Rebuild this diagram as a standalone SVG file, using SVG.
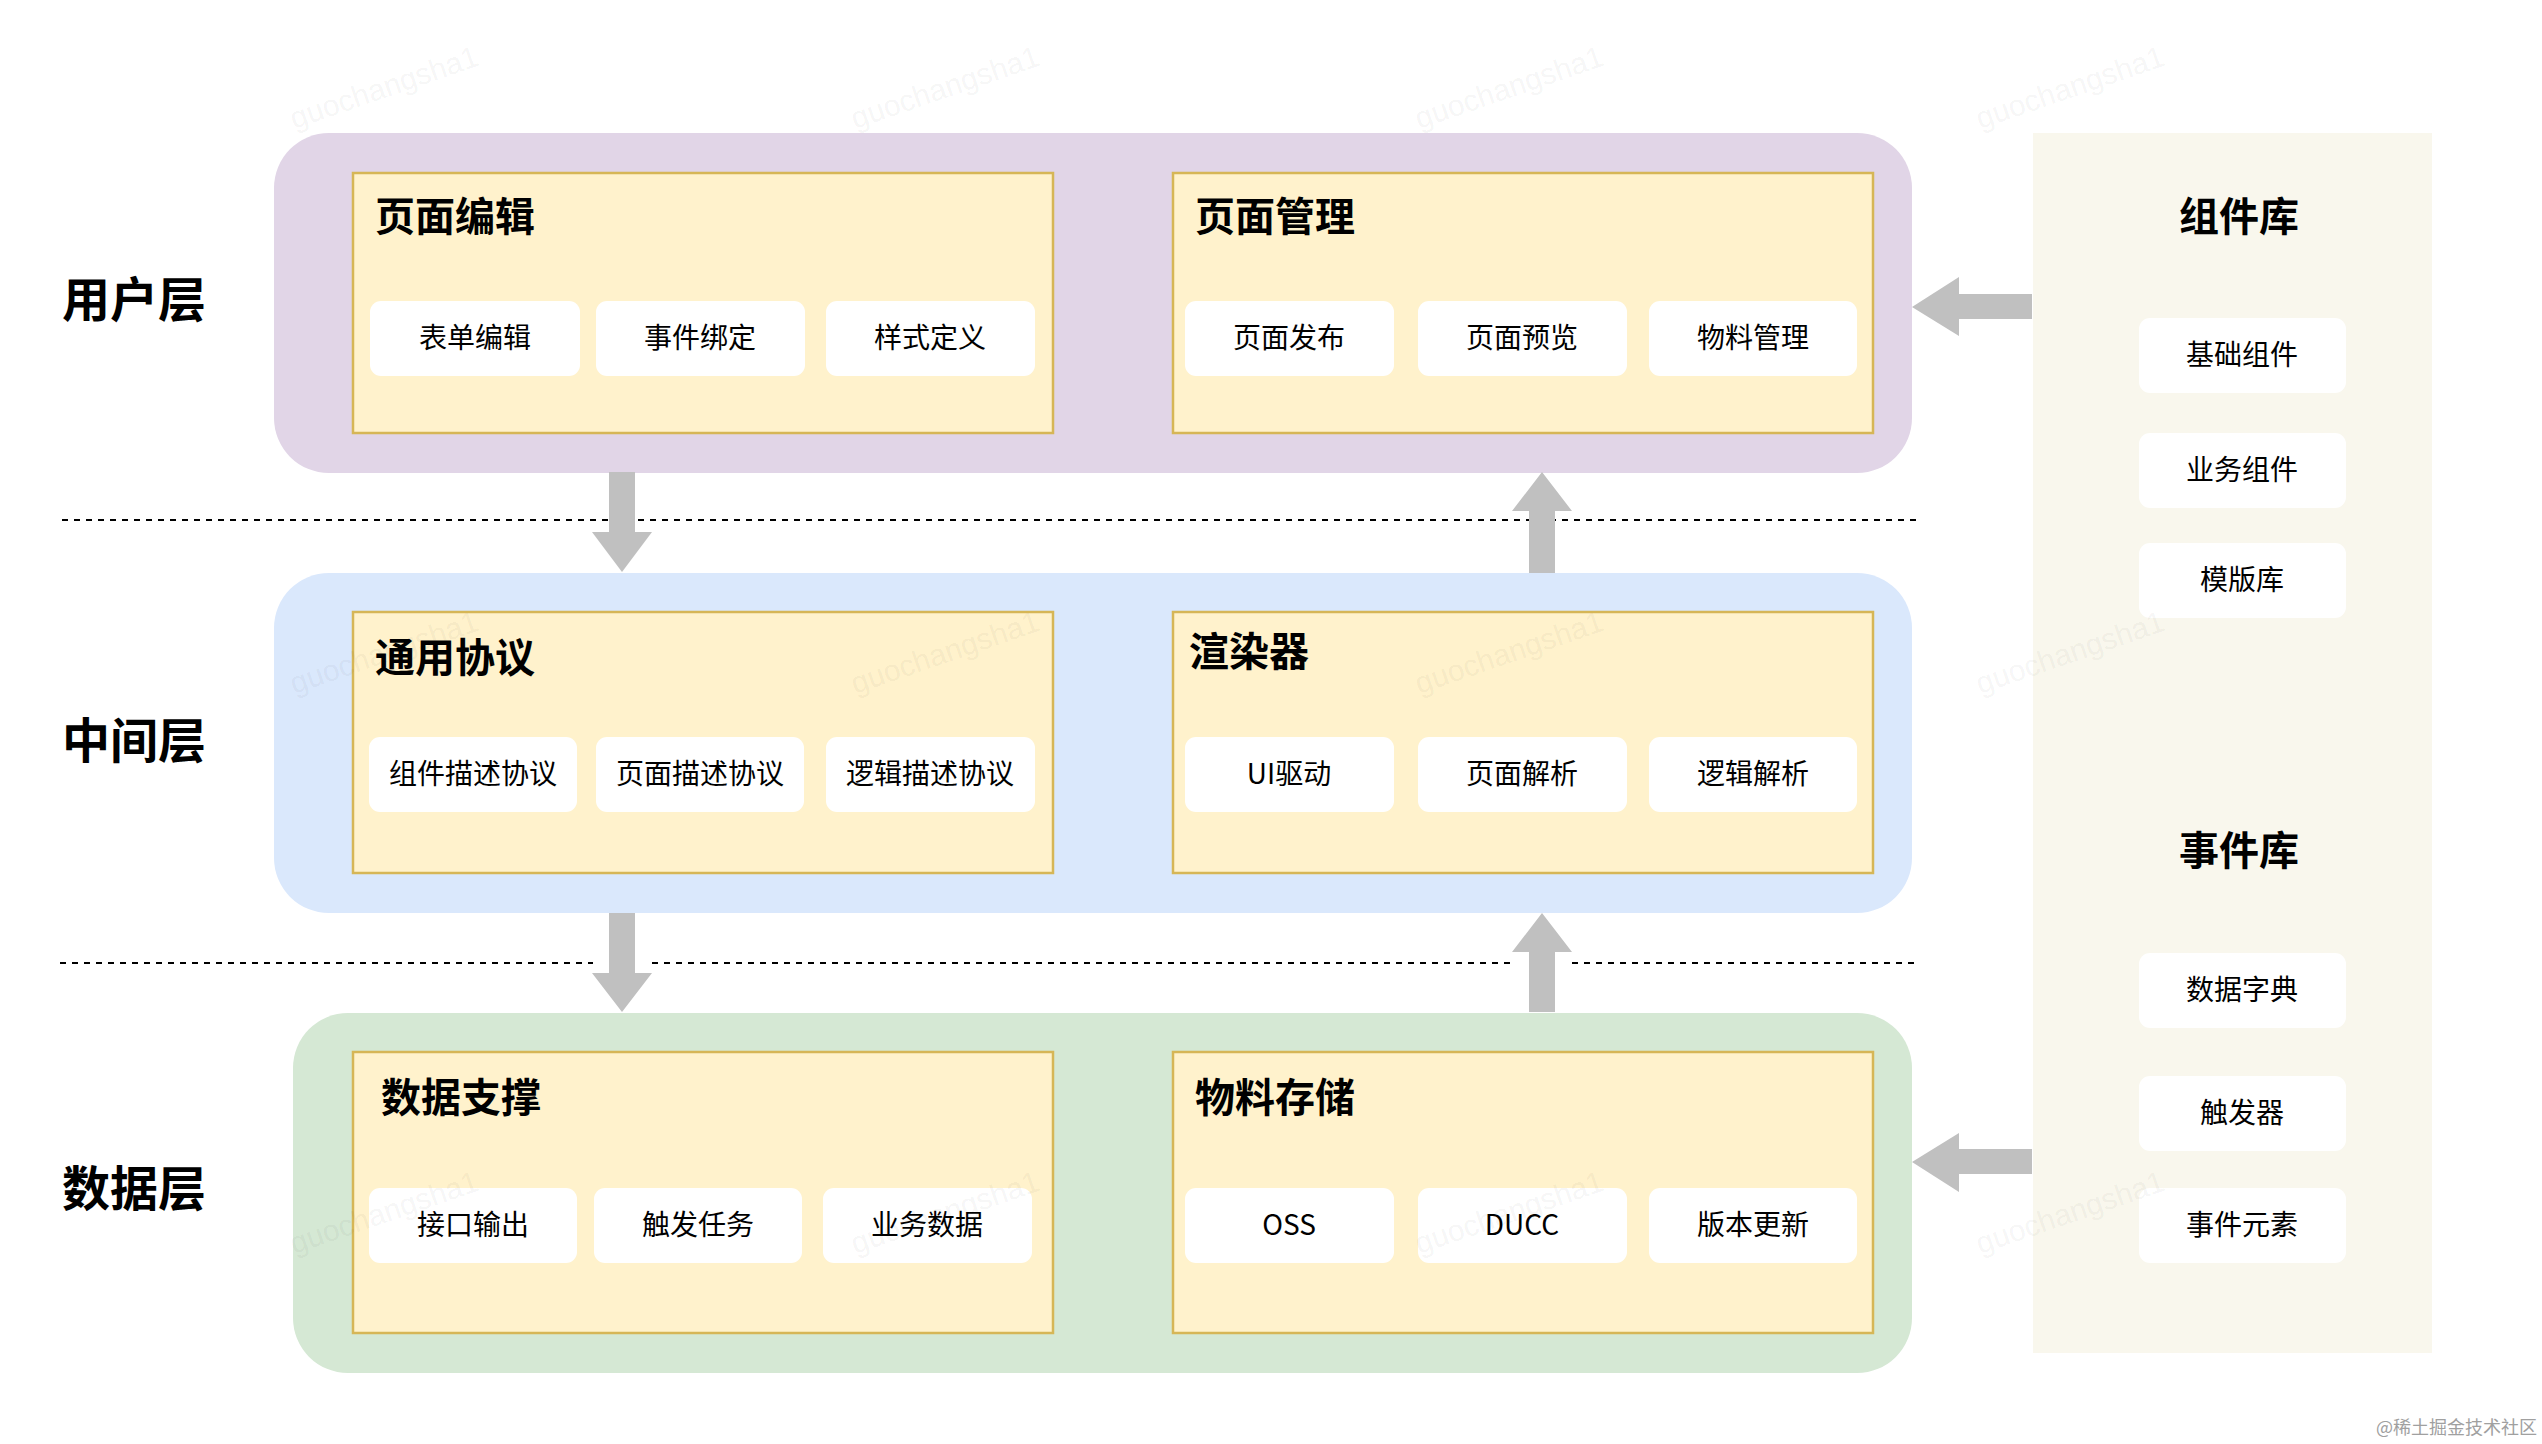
<svg xmlns="http://www.w3.org/2000/svg" width="2542" height="1444" viewBox="0 0 2542 1444">
<style>
  .layer-label{font-family:"Noto Sans CJK SC","Noto Sans",sans-serif;font-weight:bold;font-size:48px;fill:#000;dominant-baseline:central}
  .title{font-family:"Noto Sans CJK SC","Noto Sans",sans-serif;font-weight:bold;font-size:40px;fill:#000;dominant-baseline:central}
  .item{font-family:"Noto Sans CJK SC","Noto Sans",sans-serif;font-size:28px;fill:#000;dominant-baseline:central;text-anchor:middle}
  .box{fill:#fff2cc;stroke:#d6b656;stroke-width:2.5}
  .sub{fill:#ffffff}
  .arrow{fill:#c0c0c0}
  .dash{stroke:#000;stroke-width:2;stroke-dasharray:6 6;fill:none}
  .wm{font-family:"Liberation Sans",Arial,sans-serif;font-size:30px;fill:#000;fill-opacity:0.055;text-anchor:middle;dominant-baseline:central}
  .credit{font-family:"Noto Sans CJK SC","Noto Sans",sans-serif;font-size:18px;fill:#a0a0a0}
</style>

<!-- layer backgrounds -->
<g id="layer-user"><rect x="274" y="133" width="1638" height="340" rx="55" fill="#e1d5e7"/><text class="layer-label" x="62" y="296">用户层</text></g>
<g id="layer-middle"><rect x="274" y="573" width="1638" height="340" rx="55" fill="#dae8fc"/><text class="layer-label" x="62" y="737">中间层</text></g>
<g id="layer-data"><rect x="293" y="1013" width="1619" height="360" rx="55" fill="#d5e8d4"/><text class="layer-label" x="62" y="1185">数据层</text></g>

<!-- right library panel -->
<g id="library-panel"><rect x="2033" y="133" width="399" height="1220" fill="#f9f7ed"/></g>

<!-- dashed separators and arrows -->
<g id="connectors">
  <line class="dash" x1="62" y1="520" x2="1916" y2="520"/>
  <line class="dash" x1="60" y1="963" x2="593" y2="963"/>
  <line class="dash" x1="652" y1="963" x2="1511" y2="963"/>
  <line class="dash" x1="1572" y1="963" x2="1916" y2="963"/>
  <!-- user -> middle (down) -->
  <polygon class="arrow" points="609,472 635,472 635,532 652,532 622,572 592,532 609,532"/>
  <!-- middle -> user (up) -->
  <polygon class="arrow" points="1529,573 1555,573 1555,511 1572,511 1542,472 1512,511 1529,511"/>
  <!-- middle -> data (down) -->
  <polygon class="arrow" points="609,913 635,913 635,973 652,973 622,1012 592,973 609,973"/>
  <!-- data -> middle (up) -->
  <polygon class="arrow" points="1529,1012 1555,1012 1555,952 1572,952 1542,913 1512,952 1529,952"/>
  <!-- component lib -> user (left) -->
  <polygon class="arrow" points="2032,294 2032,319 1959,319 1959,336 1912,307 1959,277 1959,294"/>
  <!-- event lib -> data (left) -->
  <polygon class="arrow" points="2032,1149 2032,1174 1959,1174 1959,1192 1912,1162 1959,1133 1959,1149"/>
</g>

<!-- user layer nodes -->
<g id="page-edit">
  <rect class="box" x="353" y="173" width="700" height="260"/>
  <text class="title" x="375" y="214">页面编辑</text>
  <rect class="sub" x="370" y="301" width="210" height="75" rx="11"/><text class="item" x="475" y="336">表单编辑</text>
  <rect class="sub" x="596" y="301" width="209" height="75" rx="11"/><text class="item" x="700" y="336">事件绑定</text>
  <rect class="sub" x="826" y="301" width="209" height="75" rx="11"/><text class="item" x="930" y="336">样式定义</text>
</g>
<g id="page-manage">
  <rect class="box" x="1173" y="173" width="700" height="260"/>
  <text class="title" x="1195" y="214">页面管理</text>
  <rect class="sub" x="1185" y="301" width="209" height="75" rx="11"/><text class="item" x="1289" y="336">页面发布</text>
  <rect class="sub" x="1418" y="301" width="209" height="75" rx="11"/><text class="item" x="1522" y="336">页面预览</text>
  <rect class="sub" x="1649" y="301" width="208" height="75" rx="11"/><text class="item" x="1753" y="336">物料管理</text>
</g>

<!-- middle layer nodes -->
<g id="protocol">
  <rect class="box" x="353" y="612" width="700" height="261"/>
  <text class="title" x="375" y="655">通用协议</text>
  <rect class="sub" x="369" y="737" width="208" height="75" rx="11"/><text class="item" x="473" y="772">组件描述协议</text>
  <rect class="sub" x="596" y="737" width="208" height="75" rx="11"/><text class="item" x="700" y="772">页面描述协议</text>
  <rect class="sub" x="826" y="737" width="209" height="75" rx="11"/><text class="item" x="930" y="772">逻辑描述协议</text>
</g>
<g id="renderer">
  <rect class="box" x="1173" y="612" width="700" height="261"/>
  <text class="title" x="1189" y="649">渲染器</text>
  <rect class="sub" x="1185" y="737" width="209" height="75" rx="11"/><text class="item" x="1289" y="772">UI驱动</text>
  <rect class="sub" x="1418" y="737" width="209" height="75" rx="11"/><text class="item" x="1522" y="772">页面解析</text>
  <rect class="sub" x="1649" y="737" width="208" height="75" rx="11"/><text class="item" x="1753" y="772">逻辑解析</text>
</g>

<!-- data layer nodes -->
<g id="data-support">
  <rect class="box" x="353" y="1052" width="700" height="281"/>
  <text class="title" x="381" y="1095">数据支撑</text>
  <rect class="sub" x="369" y="1188" width="208" height="75" rx="11"/><text class="item" x="473" y="1223">接口输出</text>
  <rect class="sub" x="594" y="1188" width="208" height="75" rx="11"/><text class="item" x="698" y="1223">触发任务</text>
  <rect class="sub" x="823" y="1188" width="209" height="75" rx="11"/><text class="item" x="927" y="1223">业务数据</text>
</g>
<g id="material-storage">
  <rect class="box" x="1173" y="1052" width="700" height="281"/>
  <text class="title" x="1195" y="1095">物料存储</text>
  <rect class="sub" x="1185" y="1188" width="209" height="75" rx="11"/><text class="item" x="1289" y="1223">OSS</text>
  <rect class="sub" x="1418" y="1188" width="209" height="75" rx="11"/><text class="item" x="1522" y="1223">DUCC</text>
  <rect class="sub" x="1649" y="1188" width="208" height="75" rx="11"/><text class="item" x="1753" y="1223">版本更新</text>
</g>

<!-- libraries -->
<g id="component-lib">
  <text class="title" x="2239" y="214" text-anchor="middle">组件库</text>
  <rect class="sub" x="2139" y="318" width="207" height="75" rx="11"/><text class="item" x="2242" y="353">基础组件</text>
  <rect class="sub" x="2139" y="433" width="207" height="75" rx="11"/><text class="item" x="2242" y="468">业务组件</text>
  <rect class="sub" x="2139" y="543" width="207" height="75" rx="11"/><text class="item" x="2242" y="578">模版库</text>
</g>
<g id="event-lib">
  <text class="title" x="2239" y="848" text-anchor="middle">事件库</text>
  <rect class="sub" x="2139" y="953" width="207" height="75" rx="11"/><text class="item" x="2242" y="988">数据字典</text>
  <rect class="sub" x="2139" y="1076" width="207" height="75" rx="11"/><text class="item" x="2242" y="1111">触发器</text>
  <rect class="sub" x="2139" y="1188" width="207" height="75" rx="11"/><text class="item" x="2242" y="1223">事件元素</text>
</g>

<!-- watermarks -->
<g id="watermarks">
  <text class="wm" transform="translate(384,87) rotate(-19)">guochangsha1</text>
  <text class="wm" transform="translate(945,87) rotate(-19)">guochangsha1</text>
  <text class="wm" transform="translate(1509,87) rotate(-19)">guochangsha1</text>
  <text class="wm" transform="translate(2070,87) rotate(-19)">guochangsha1</text>
  <text class="wm" transform="translate(384,652) rotate(-19)">guochangsha1</text>
  <text class="wm" transform="translate(945,652) rotate(-19)">guochangsha1</text>
  <text class="wm" transform="translate(1509,652) rotate(-19)">guochangsha1</text>
  <text class="wm" transform="translate(2070,652) rotate(-19)">guochangsha1</text>
  <text class="wm" transform="translate(384,1212) rotate(-19)">guochangsha1</text>
  <text class="wm" transform="translate(945,1212) rotate(-19)">guochangsha1</text>
  <text class="wm" transform="translate(1509,1212) rotate(-19)">guochangsha1</text>
  <text class="wm" transform="translate(2070,1212) rotate(-19)">guochangsha1</text>
  <text class="credit" x="2376" y="1434">@稀土掘金技术社区</text>
</g>
</svg>
